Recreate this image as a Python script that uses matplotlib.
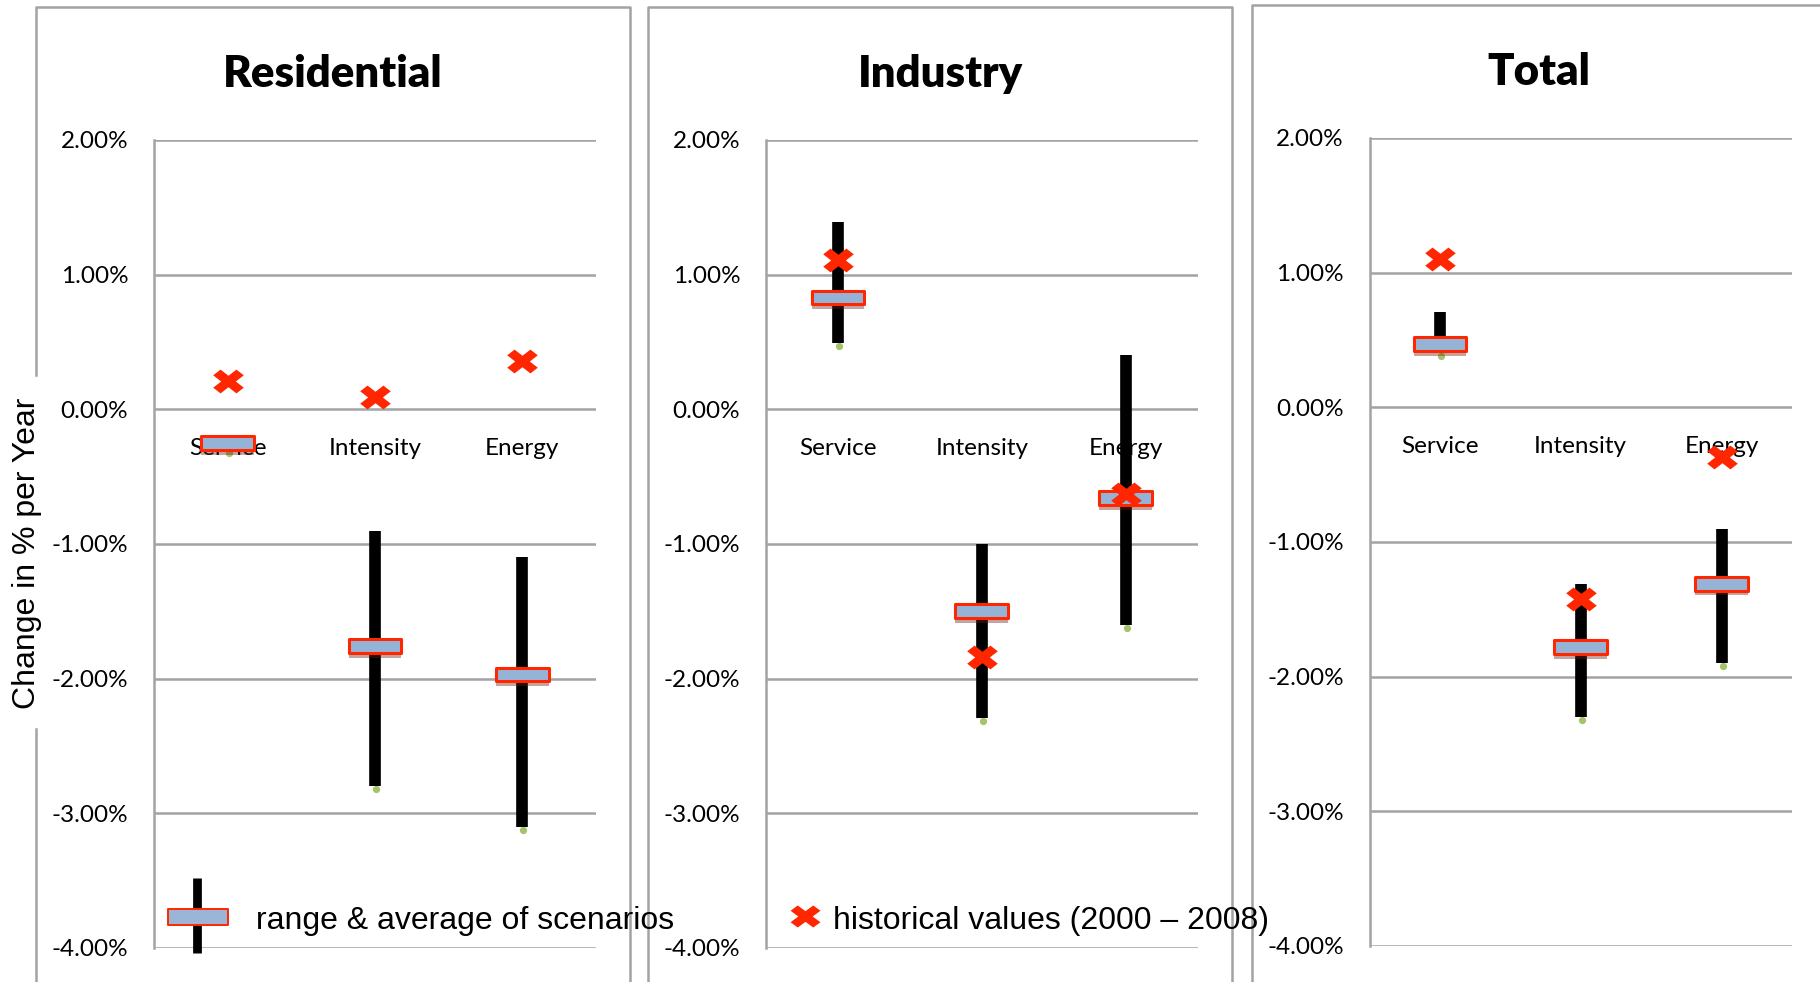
import numpy as np
import matplotlib
matplotlib.use("Agg")
import matplotlib.pyplot as plt
from matplotlib.path import Path
from matplotlib.lines import Line2D
import matplotlib.transforms as mtransforms
import matplotlib.patheffects as pe

# ---- data (annual change, %) ----
categories = ["Service", "Intensity", "Energy"]
panel_titles = ["Residential", "Industry", "Total"]
tick_values = [2, 1, 0, -1, -2, -3, -4]

residential_min = [-0.30, -2.80, -3.10]
residential_max = [-0.20, -0.90, -1.10]
residential_avg = [-0.25, -1.76, -1.97]
residential_hist = [0.21, 0.09, 0.36]

industry_min = [0.49, -2.29, -1.60]
industry_max = [1.39, -1.00, 0.40]
industry_avg = [0.83, -1.50, -0.66]
industry_hist = [1.11, -1.84, -0.63]

total_min = [0.40, -2.30, -1.90]
total_max = [0.71, -1.31, -0.90]
total_avg = [0.47, -1.78, -1.31]
total_hist = [1.10, -1.42, -0.37]

legend_range_label = "range & average of scenarios"
legend_hist_label = "historical values (2000 \u2013 2008)"
y_label = "Change in % per Year"

# ---- styling ----
W, H = 1820, 982
DPI = 100
GRID = "#A3A3A3"
RED = "#FF2600"
BLUE = "#95B3D7"
GREEN = "#A5C46A"
TICK_FONT = "Lato"
LEGEND_FONT = "Liberation Sans"

fig = plt.figure(figsize=(W / DPI, H / DPI), dpi=DPI)
fig.patch.set_facecolor("white")

# pixel transform (origin top-left)
px = mtransforms.Affine2D().scale(1, -1).translate(0, H)


def px_rect(left, top, right, bottom):
    return [left / W, 1 - bottom / H, (right - left) / W, (bottom - top) / H]


def thick_x(arm=0.30, squash=0.8):
    """Filled X with square-cut arms; arm is the half thickness relative to the half span."""
    r2 = np.sqrt(2)
    L = r2 - arm  # so that the outer corner lands at x = 1
    a, b = (L + arm) / r2, (L - arm) / r2
    n = arm * r2
    v = [(n, 0), (a, b), (b, a), (0, n), (-b, a), (-a, b), (-n, 0),
         (-a, -b), (-b, -a), (0, -n), (b, -a), (a, -b), (n, 0)]
    v = [(x, y * squash) for x, y in v]
    codes = [Path.MOVETO] + [Path.LINETO] * (len(v) - 2) + [Path.CLOSEPOLY]
    return Path(v, codes)


x_path = thick_x(0.34, 0.78)
box_h = 0.13
box_path = Path([(-0.5, -box_h), (0.5, -box_h), (0.5, box_h), (-0.5, box_h), (-0.5, -box_h)],
                [Path.MOVETO, Path.LINETO, Path.LINETO, Path.LINETO, Path.CLOSEPOLY])
box_shadow = [pe.SimplePatchShadow(offset=(0, -3.5), shadow_rgbFace="#6b1d12", alpha=0.4),
              pe.Normal()]

panels = [
    dict(title=panel_titles[0], rect=(154, 140, 596, 948), border=(36, 7, 630), title_xy=(333, 87),
         mins=residential_min, maxs=residential_max, avgs=residential_avg, hist=residential_hist),
    dict(title=panel_titles[1], rect=(766, 140, 1197.5, 948), border=(648, 7, 1232), title_xy=(940, 87),
         mins=industry_min, maxs=industry_max, avgs=industry_avg, hist=industry_hist),
    dict(title=panel_titles[2], rect=(1369.5, 138, 1792, 946), border=(1252, 5, 1832), title_xy=(1539, 85),
         mins=total_min, maxs=total_max, avgs=total_avg, hist=total_hist),
]

for k, p in enumerate(panels):
    l, t, r, b = p["rect"]
    ax = fig.add_axes(px_rect(l, t, r, b))
    ax.set_xlim(-0.5, len(categories) - 0.5)
    ax.set_ylim(-4, 2)
    ax.set_facecolor("none")
    for s in ["top", "right", "bottom"]:
        ax.spines[s].set_visible(False)
    ax.spines["left"].set_color(GRID)
    ax.spines["left"].set_linewidth(1.8)
    ax.set_yticks(tick_values)
    ax.set_yticklabels([f"{v:.2f}%" for v in tick_values], fontfamily=TICK_FONT, fontsize=17.5)
    ax.set_xticks([])
    ax.tick_params(axis="y", length=0, pad=18.5)
    ax.yaxis.grid(True, color=GRID, linewidth=1.8)
    ax.set_axisbelow(True)

    x = np.arange(len(categories))
    # category labels sitting just under the zero line
    for i, c in enumerate(categories):
        ax.annotate(c, (i, 0), xytext=(0, -39), textcoords="offset pixels",
                    ha="center", va="center", fontfamily=TICK_FONT, fontsize=17.5, zorder=2.5)

    # scenario ranges
    ax.plot(x, p["mins"], linestyle="none", marker="o", ms=4.2, color=GREEN, zorder=2.6,
            transform=ax.transData + mtransforms.Affine2D().translate(1, -3))
    ax.vlines(x, p["mins"], p["maxs"], colors="black", linewidth=8.4, capstyle="butt", zorder=3)
    # scenario averages
    ax.plot(x, p["avgs"], linestyle="none", marker=box_path, ms=38,
            markerfacecolor=BLUE, markeredgecolor=RED, markeredgewidth=2.2,
            path_effects=box_shadow, zorder=4)
    # historical values
    ax.plot(x, p["hist"], linestyle="none", marker=x_path, ms=22, color=RED,
            markeredgewidth=0, zorder=5)

    # panel frame
    bl, bt, br = p["border"]
    if k == 0:
        fig.add_artist(Line2D([bl, bl], [H + 5, 729], transform=px, color=GRID, lw=1.8))
        fig.add_artist(Line2D([bl, bl, br, br], [375, bt, bt, H + 5], transform=px, color=GRID, lw=1.8))
    else:
        fig.add_artist(Line2D([bl, bl, br, br], [H + 5, bt, bt, H + 5], transform=px, color=GRID, lw=1.8))

    # panel title
    tx, ty = p["title_xy"]
    fig.text(tx / W, 1 - ty / H, p["title"], ha="center", va="baseline",
             fontfamily=TICK_FONT, fontweight="heavy", fontsize=31.5)

# y-axis title
fig.text(27 / W, 1 - 553 / H, y_label, rotation=90, ha="center", va="center",
         fontfamily=LEGEND_FONT, fontsize=23)

# legend: range & average
fig.add_artist(Line2D([196.5, 196.5], [878, 953], transform=px, color="black", lw=6.3,
                      solid_capstyle="butt"))
fig.add_artist(Line2D([198], [917], transform=px, linestyle="none", marker=box_path.transformed(
    mtransforms.Affine2D().scale(1, 0.98)), ms=43, markerfacecolor="#9AB5D5",
    markeredgecolor=RED, markeredgewidth=1.4))
fig.text(256 / W, 1 - 917 / H, legend_range_label, ha="left", va="center_baseline",
         fontfamily=LEGEND_FONT, fontsize=23)

# legend: historical values
fig.add_artist(Line2D([805], [916], transform=px, linestyle="none",
                      marker=thick_x(0.34, 0.74), ms=21.5, color=RED, markeredgewidth=0))
fig.text(833 / W, 1 - 917 / H, legend_hist_label, ha="left", va="center_baseline",
         fontfamily=LEGEND_FONT, fontsize=23)

fig.savefig("out.png", dpi=DPI, facecolor="white")
